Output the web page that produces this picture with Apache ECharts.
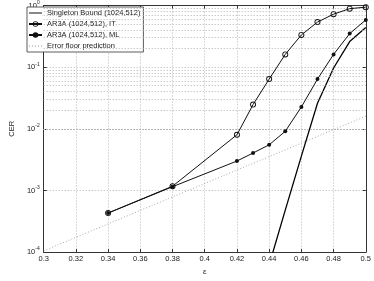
<!DOCTYPE html>
<html><head><meta charset="utf-8">
<script src="https://cdn.jsdelivr.net/npm/echarts@6/dist/echarts.min.js"></script>
<style>html,body{margin:0;padding:0;background:#fff}#c{width:374px;height:281px}</style>
</head><body><div id="c"></div>
<script>
const epsIT = [0.34, 0.38, 0.42, 0.43, 0.44, 0.45, 0.46, 0.47, 0.48, 0.49, 0.50];
const cerIT = [4.3e-4, 1.17e-3, 8.0e-3, 0.0247, 0.064, 0.161, 0.333, 0.538, 0.724, 0.889, 0.94];
const epsML = [0.34, 0.38, 0.42, 0.43, 0.44, 0.45, 0.46, 0.47, 0.48, 0.49, 0.50];
const cerML = [4.3e-4, 1.15e-3, 3.0e-3, 4.05e-3, 5.5e-3, 9.1e-3, 0.0226, 0.064, 0.161, 0.35, 0.584];
const epsSB = [0.44, 0.45, 0.46, 0.47, 0.48, 0.49, 0.50];
const cerSB = [6.2e-5, 4.8e-4, 3.6e-3, 0.026, 0.097, 0.26, 0.44];
const epsEF = [0.30, 0.50];
const cerEF = [1.05e-4, 0.016];
const seriesNames = ['Singleton Bound (1024,512)', 'AR3A (1024,512), IT', 'AR3A (1024,512), ML', 'Error floor prediction'];
const xMin = 0.3, xMax = 0.5, xStep = 0.02;
const yMin = 1e-4, yMax = 1;

const pairs = (xs, ys) => xs.map((x, i) => [x, ys[i]]);
const minorGrid = [];
for (let d = yMin; d < yMax; d *= 10) for (let m = 2; m <= 9; m++) minorGrid.push({ yAxis: +(m * d).toPrecision(3) });

const FONT = 'Liberation Sans, Arial, sans-serif';
const TXT = '#222';
const GRID = { type: [1, 2], color: '#b4b4b4', width: 1 };
const ICON_SOLID = 'path://M0,0H26V2H0Z';
const ICON_DOTTED = 'path://M0,0h2v2h-2z M6,0h2v2h-2z M12,0h2v2h-2z M18,0h2v2h-2z M24,0h2v2h-2z';
const RING = 'path://M5,0A5,5 0 1,1 5,10A5,5 0 1,1 5,0Z M5,1.5A3.5,3.5 0 1,0 5,8.5A3.5,3.5 0 1,0 5,1.5Z';

const chart = echarts.init(document.getElementById('c'), null, { renderer: 'canvas' });
chart.setOption({
  animation: false,
  backgroundColor: '#fff',
  textStyle: { fontFamily: FONT },
  grid: { left: 26, right: 4, top: 5, bottom: 19, containLabel: false },
  legend: {
    data: [
      { name: seriesNames[0], icon: ICON_SOLID, itemStyle: { color: '#111' } },
      { name: seriesNames[1] },
      { name: seriesNames[2] },
      { name: seriesNames[3], icon: ICON_DOTTED, itemStyle: { color: '#999' } }
    ],
    orient: 'vertical', left: 27, top: 7,
    itemWidth: 13, itemHeight: 7, itemGap: 3,
    padding: [2, 3, 2, 1],
    backgroundColor: '#fff', borderColor: '#333', borderWidth: 0.8, borderRadius: 0,
    textStyle: { fontFamily: FONT, fontSize: 7.5, color: TXT }
  },
  xAxis: [{
    type: 'value', min: xMin, max: xMax, interval: xStep,
    name: 'ε', nameLocation: 'middle', nameGap: 13,
    nameTextStyle: { fontFamily: FONT, fontSize: 8, color: TXT },
    axisLine: { onZero: false, lineStyle: { color: '#333', width: 1 } },
    axisTick: { inside: true, length: 3, lineStyle: { color: '#333' } },
    axisLabel: { fontSize: 7.5, color: TXT, margin: 3, formatter: v => String(+v.toFixed(2)) },
    splitLine: { show: true, lineStyle: GRID }
  }, {
    type: 'value', position: 'top', min: xMin, max: xMax, interval: xStep,
    axisLine: { onZero: false, lineStyle: { color: '#333', width: 1 } },
    axisTick: { inside: true, length: 3, lineStyle: { color: '#333' } },
    axisLabel: { show: false }, splitLine: { show: false }
  }],
  yAxis: [{
    type: 'log', logBase: 10, min: yMin, max: yMax,
    name: 'CER', nameLocation: 'middle', nameGap: 15, nameRotate: 90,
    nameTextStyle: { fontFamily: FONT, fontSize: 7.5, color: TXT },
    axisLine: { lineStyle: { color: '#333', width: 1 } },
    axisTick: { inside: true, length: 3, lineStyle: { color: '#333' } },
    axisLabel: {
      fontSize: 7.5, color: TXT, margin: 4,
      formatter: v => '10{s|' + Math.round(Math.log10(v)) + '}',
      rich: { s: { fontSize: 5, verticalAlign: 'top', padding: [0, 0, 6, 0], color: TXT } }
    },
    splitLine: { show: true, lineStyle: GRID }
  }, {
    type: 'log', logBase: 10, min: yMin, max: yMax, position: 'right',
    axisLine: { lineStyle: { color: '#333', width: 1 } },
    axisTick: { inside: true, length: 3, lineStyle: { color: '#333' } },
    axisLabel: { show: false }, splitLine: { show: false }
  }],
  series: [
    {
      name: 'minor-grid', type: 'line', data: [[0.4, 0.01]], symbol: 'none',
      lineStyle: { opacity: 0 }, silent: true, z: 1,
      markLine: { silent: true, symbol: 'none', label: { show: false }, lineStyle: GRID, data: minorGrid, animation: false }
    },
    {
      name: seriesNames[0], type: 'line', data: pairs(epsSB, cerSB),
      showSymbol: false, symbol: 'none', clip: true, z: 4,
      lineStyle: { color: '#000', width: 1.3 }, itemStyle: { color: '#000' }
    },
    {
      name: seriesNames[1], type: 'line', data: pairs(epsIT, cerIT),
      symbol: RING, symbolSize: 6, symbolKeepAspect: true, z: 5,
      lineStyle: { color: '#111', width: 1 }, itemStyle: { color: '#111', borderWidth: 0 }
    },
    {
      name: seriesNames[2], type: 'line', data: pairs(epsML, cerML),
      symbol: 'circle', symbolSize: 4, z: 5,
      lineStyle: { color: '#111', width: 1 }, itemStyle: { color: '#111' }
    },
    {
      name: seriesNames[3], type: 'line', data: pairs(epsEF, cerEF),
      showSymbol: false, symbol: 'none', z: 3,
      lineStyle: { color: '#aaa', width: 1, type: [1, 2] }, itemStyle: { color: '#aaa' }
    }
  ]
});
</script></body></html>
